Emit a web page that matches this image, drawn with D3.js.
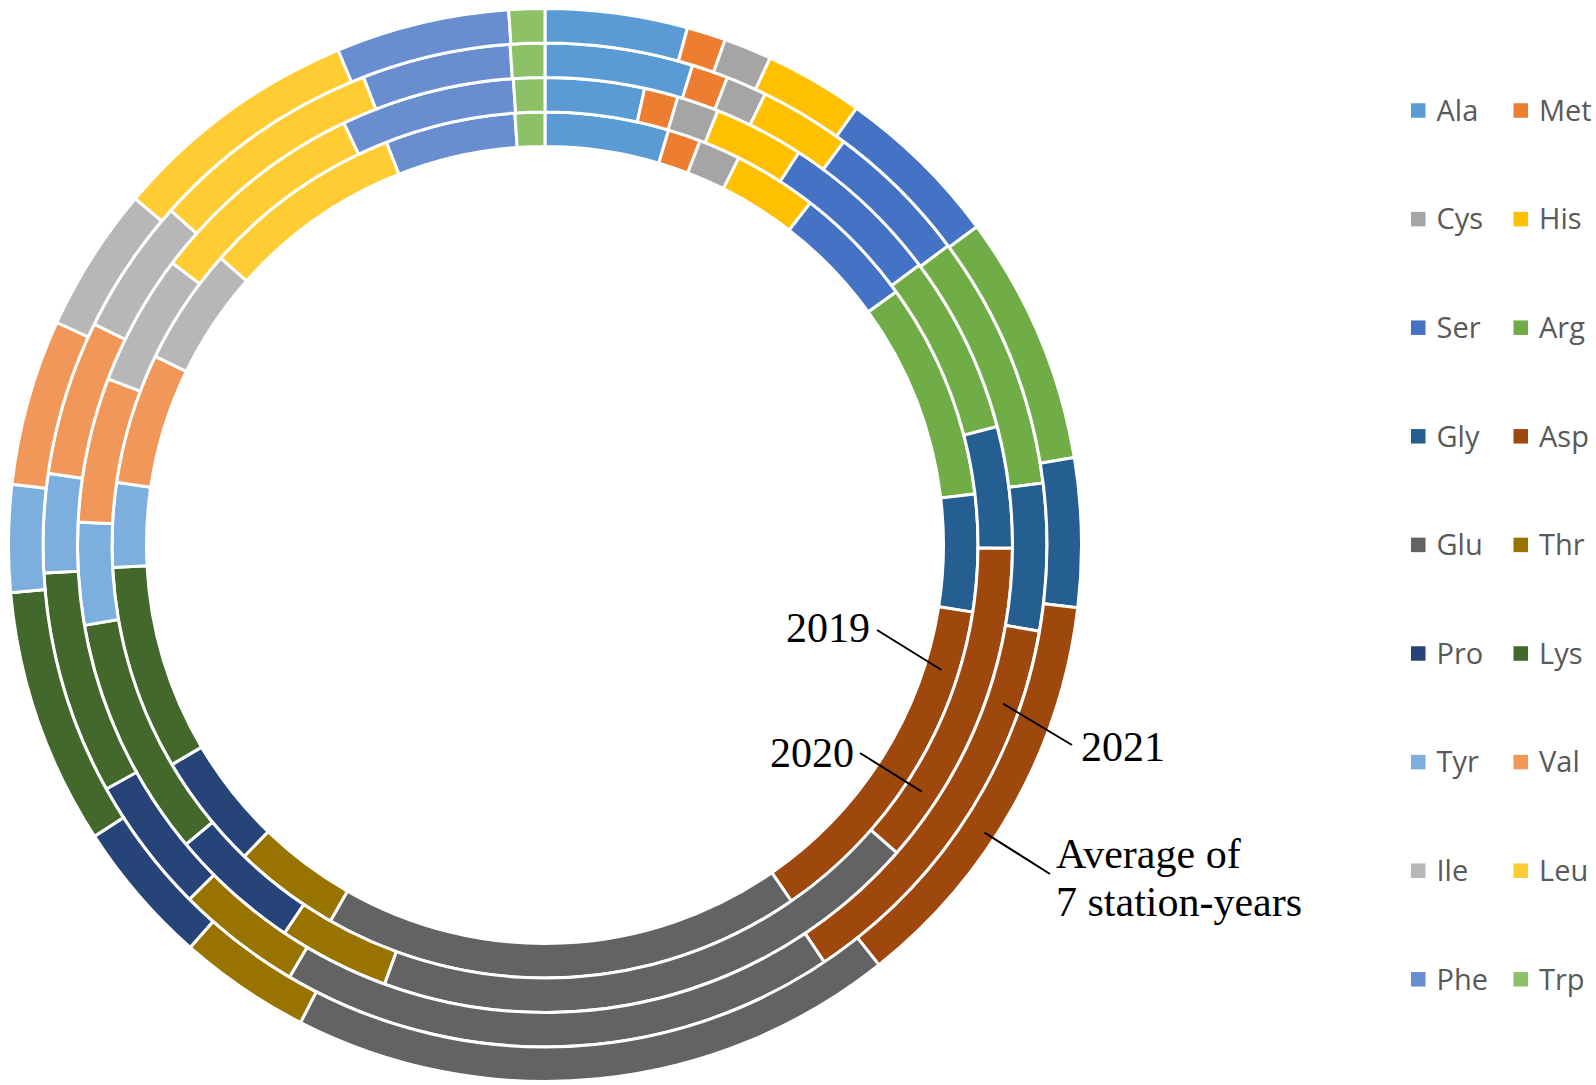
<!DOCTYPE html>
<html>
<head>
<meta charset="utf-8">
<script src="https://cdn.jsdelivr.net/npm/d3@7"></script>
<style>
  html, body { margin: 0; padding: 0; background: #ffffff; }
  svg { display: block; }
</style>
</head>
<body>
<svg id="chart" width="1596" height="1085"></svg>
<script>
// ---- data (percent of total amino acids) ----
const categories = ["Ala","Met","Cys","His","Ser","Arg","Gly","Asp","Glu","Thr","Pro","Lys","Tyr","Val","Ile","Leu","Phe","Trp"];
const values2019 = [4.61,1.22,1.56,3.11,4.56,8.06,4.36,12.89,17.89,3.97,4.31,7.64,3.14,4.86,4.36,7.50,4.86,1.11];
const values2020 = [3.42,1.17,1.44,3.11,5.64,6.14,4.19,11.33,19.14,3.83,4.53,8.31,3.53,5.00,4.53,7.61,6.00,1.08];
const values2021 = [4.75,1.17,1.31,2.92,4.69,8.19,4.72,12.86,17.89,4.03,4.39,7.19,3.17,4.97,4.36,7.50,4.78,1.11];
const valuesAvg  = [4.28,1.17,1.44,2.97,5.03,7.50,4.47,12.44,18.22,3.97,4.36,7.72,3.22,5.00,4.36,7.53,5.22,1.08];
const ringNames = ["2019","2020","2021","Average of 7 station-years"];
const colors = ["#5B9BD5","#ED7D31","#A5A5A5","#FFC000","#4472C4","#70AD47","#255E91","#9E480E","#636363","#997300","#264478","#43682B","#7CAFDD","#F1975A","#B7B7B7","#FFCD33","#698ED0","#8CC168"];

const rings = [values2019, values2020, values2021, valuesAvg];

const svg = d3.select("#chart");
const cx = 545, cy = 545;
const r0 = 398.5, ringStep = 34.5;

const color = d3.scaleOrdinal().domain(categories).range(colors);
const pie = d3.pie().sort(null).value(d => d.v).startAngle(0).endAngle(2 * Math.PI);

const g = svg.append("g").attr("transform", `translate(${cx},${cy})`);

rings.forEach((vals, i) => {
  const data = categories.map((c, k) => ({ c, v: vals[k] }));
  const arc = d3.arc().innerRadius(r0 + ringStep * i).outerRadius(r0 + ringStep * (i + 1));
  g.append("g").attr("class", "ring")
    .selectAll("path")
    .data(pie(data))
    .join("path")
    .attr("d", arc)
    .attr("fill", d => color(d.data.c))
    .attr("stroke", "#ffffff")
    .attr("stroke-width", 3)
    .attr("stroke-linejoin", "miter");
});

// ---- ring annotations ----
const polar = (r, deg) => {
  const a = deg * Math.PI / 180;
  return [cx + r * Math.sin(a), cy - r * Math.cos(a)];
};
const annotations = [
  { lines: ["2019"], tx: 786, ty: 642, from: [877, 630], ring: 0, ang: 107.5 },
  { lines: ["2020"], tx: 770, ty: 767, from: [860, 753], ring: 1, ang: 123.2 },
  { lines: ["2021"], tx: 1081, ty: 761, from: [1072, 745], ring: 2, ang: 109.1 },
  { lines: ["Average of", "7 station-years"], tx: 1056, ty: 868, from: [1050, 874], ring: 3, ang: 123.2 }
];
const ann = svg.append("g").attr("class", "annotations");
annotations.forEach(a => {
  const end = polar(r0 + ringStep * a.ring + ringStep / 2 + (a.ring === 3 ? 6 : 0), a.ang);
  ann.append("line")
    .attr("x1", a.from[0]).attr("y1", a.from[1])
    .attr("x2", end[0]).attr("y2", end[1])
    .attr("stroke", "#000").attr("stroke-width", 2);
  const t = ann.append("text")
    .attr("x", a.tx).attr("y", a.ty)
    .attr("font-family", "'Liberation Serif', 'Times New Roman', serif")
    .attr("font-size", 42)
    .attr("fill", "#000");
  a.lines.forEach((ln, j) => {
    t.append("tspan").attr("x", a.tx).attr("dy", j === 0 ? 0 : 48).text(ln);
  });
});

// ---- legend ----
const legend = svg.append("g").attr("class", "legend");
const colX = [1411, 1513.5];
const rowY0 = 110.5, rowStep = 108.6;
categories.forEach((c, k) => {
  const col = k % 2, row = Math.floor(k / 2);
  const x = colX[col], y = rowY0 + row * rowStep;
  const item = legend.append("g");
  item.append("rect")
    .attr("x", x).attr("y", y - 7.25)
    .attr("width", 14.5).attr("height", 14.5)
    .attr("fill", color(c));
  item.append("text")
    .attr("x", x + 25.5).attr("y", y + 10.2)
    .attr("font-family", "'Open Sans', 'Noto Sans', sans-serif")
    .attr("font-size", 29)
    .attr("fill", "#595959")
    .text(c);
});
</script>
</body>
</html>
